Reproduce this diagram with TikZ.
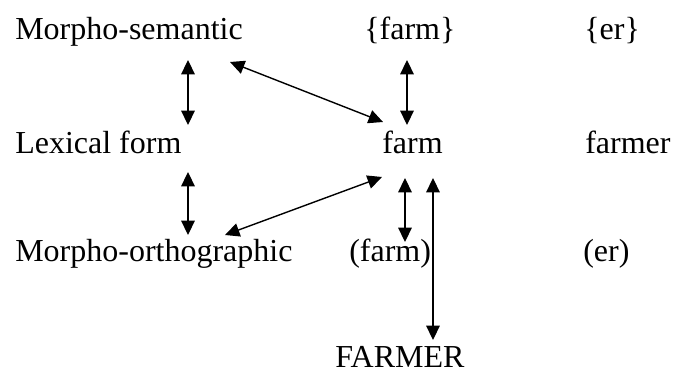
\documentclass[tikz,border=0pt]{standalone}
\usepackage{fontspec}
\setmainfont{Liberation Serif}
\usetikzlibrary{arrows.meta}
\tikzset{
  lbl/.style={anchor=base west, inner sep=0pt, font=\fontsize{22.76}{27}\selectfont},
  arr/.style={line width=0.035cm, {Triangle[length=0.36cm,width=0.34cm]}-{Triangle[length=0.36cm,width=0.34cm]}}
}
\begin{document}
\begin{tikzpicture}
% page size
\useasboundingbox (0,0) rectangle (16.825,9.35);

% Drawing labels, row by row
\node [lbl] (msem) at (0.375,8.35) {Morpho-semantic};
\node [lbl] (msfarm) at (9.1,8.35) {\{farm\}};
\node [lbl] (mser) at (14.6,8.35) {\{er\}};
\node [lbl] (lex) at (0.375,5.5) {Lexical form};
\node [lbl] (lexfarm) at (9.55,5.5) {farm};
\node [lbl] (lexfarmer) at (14.625,5.5) {farmer};
\node [lbl] (morth) at (0.375,2.8) {Morpho-orthographic};
\node [lbl] (mofarm) at (8.725,2.8) {(farm)};
\node [lbl] (moer) at (14.575,2.8) {(er)};
\node [lbl] (word) at (8.375,0.17) {FARMER};

% Arrow ends
\coordinate (a1t) at (4.7,7.85);
\coordinate (a1b) at (4.7,6.225);
\coordinate (a2t) at (5.75,7.8);
\coordinate (a2b) at (9.575,6.3);
\coordinate (a3t) at (10.175,7.85);
\coordinate (a3b) at (10.175,6.225);
\coordinate (a4t) at (4.7,5.05);
\coordinate (a4b) at (4.7,3.475);
\coordinate (a5t) at (9.55,4.925);
\coordinate (a5b) at (5.625,3.475);
\coordinate (a6t) at (10.125,4.9);
\coordinate (a6b) at (10.125,3.3);
\coordinate (a7t) at (10.825,4.9);
\coordinate (a7b) at (10.825,0.85);

% Drawing arrows
\draw [arr] (a1t) -- (a1b);
\draw [arr] (a2t) -- (a2b);
\draw [arr] (a3t) -- (a3b);
\draw [arr] (a4t) -- (a4b);
\draw [arr] (a5t) -- (a5b);
\draw [arr] (a6t) -- (a6b);
\draw [arr] (a7t) -- (a7b);
\end{tikzpicture}
\end{document}
